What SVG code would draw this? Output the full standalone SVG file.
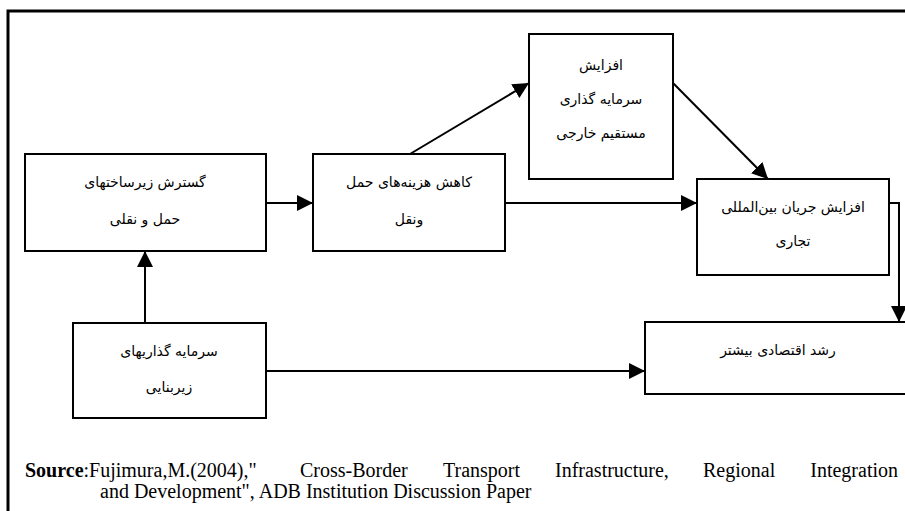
<svg xmlns="http://www.w3.org/2000/svg" width="905" height="511" viewBox="0 0 905 511">
<defs>
<marker id="ah" markerUnits="userSpaceOnUse" markerWidth="16" markerHeight="16" refX="16" refY="8" orient="auto">
<path d="M0,0 L16,8 L0,16 z" fill="#000"/>
</marker>
<style>
.box{fill:#fff;stroke:#000;stroke-width:2}
.fa{font-family:"DejaVu Sans",sans-serif;font-size:14px;fill:#000;text-anchor:middle;direction:rtl}
.conn{fill:none;stroke:#000;stroke-width:2}
.src{font-family:"Liberation Serif",serif;font-size:20px;fill:#000}
</style>
</defs>
<rect x="8" y="11" width="910" height="520" fill="#fff" stroke="#000" stroke-width="3"/>
<g id="connectors">
<line class="conn" x1="266" y1="203" x2="313" y2="203" marker-end="url(#ah)"/>
<line class="conn" x1="145" y1="323" x2="145" y2="251" marker-end="url(#ah)"/>
<line class="conn" x1="410" y1="154" x2="529" y2="83" marker-end="url(#ah)"/>
<line class="conn" x1="673" y1="83" x2="768" y2="179" marker-end="url(#ah)"/>
<line class="conn" x1="505" y1="203" x2="697" y2="203" marker-end="url(#ah)"/>
<path class="conn" d="M889,203 H899 V322" marker-end="url(#ah)"/>
<line class="conn" x1="266" y1="371" x2="645" y2="371" marker-end="url(#ah)"/>
</g>
<g id="node-infra">
<rect class="box" x="25" y="154" width="241" height="97"/>
<text class="fa" x="145" y="187">گسترش زیرساختهای</text>
<text class="fa" x="145" y="224">حمل و نقلی</text>
</g>
<g id="node-cost">
<rect class="box" x="313" y="154" width="192" height="97"/>
<text class="fa" x="409" y="187">کاهش هزینه‌های حمل</text>
<text class="fa" x="409" y="224">ونقل</text>
</g>
<g id="node-fdi">
<rect class="box" x="529" y="34" width="144" height="145"/>
<text class="fa" x="601" y="70">افزایش</text>
<text class="fa" x="601" y="104">سرمایه گذاری</text>
<text class="fa" x="601" y="138">مستقیم خارجی</text>
</g>
<g id="node-trade">
<rect class="box" x="697" y="179" width="192" height="96"/>
<text class="fa" x="793" y="212">افزایش جریان بین‌المللی</text>
<text class="fa" x="793" y="246">تجاری</text>
</g>
<g id="node-invest">
<rect class="box" x="73" y="323" width="193" height="95"/>
<text class="fa" x="169" y="356">سرمایه گذاریهای</text>
<text class="fa" x="169" y="392">زیربنایی</text>
</g>
<g id="node-growth">
<rect class="box" x="645" y="322" width="270" height="72"/>
<text class="fa" x="778" y="355">رشد اقتصادی بیشتر</text>
</g>
<g id="source">
<text class="src" x="25" y="477"><tspan font-weight="bold">Source</tspan>:Fujimura,M.(2004),"</text>
<text class="src" x="300" y="477">Cross-Border</text>
<text class="src" x="443" y="477">Transport</text>
<text class="src" x="555" y="477">Infrastructure,</text>
<text class="src" x="703" y="477">Regional</text>
<text class="src" x="898" y="477" text-anchor="end">Integration</text>
<text class="src" x="100" y="498">and Development", ADB Institution Discussion Paper</text>
</g>
</svg>
